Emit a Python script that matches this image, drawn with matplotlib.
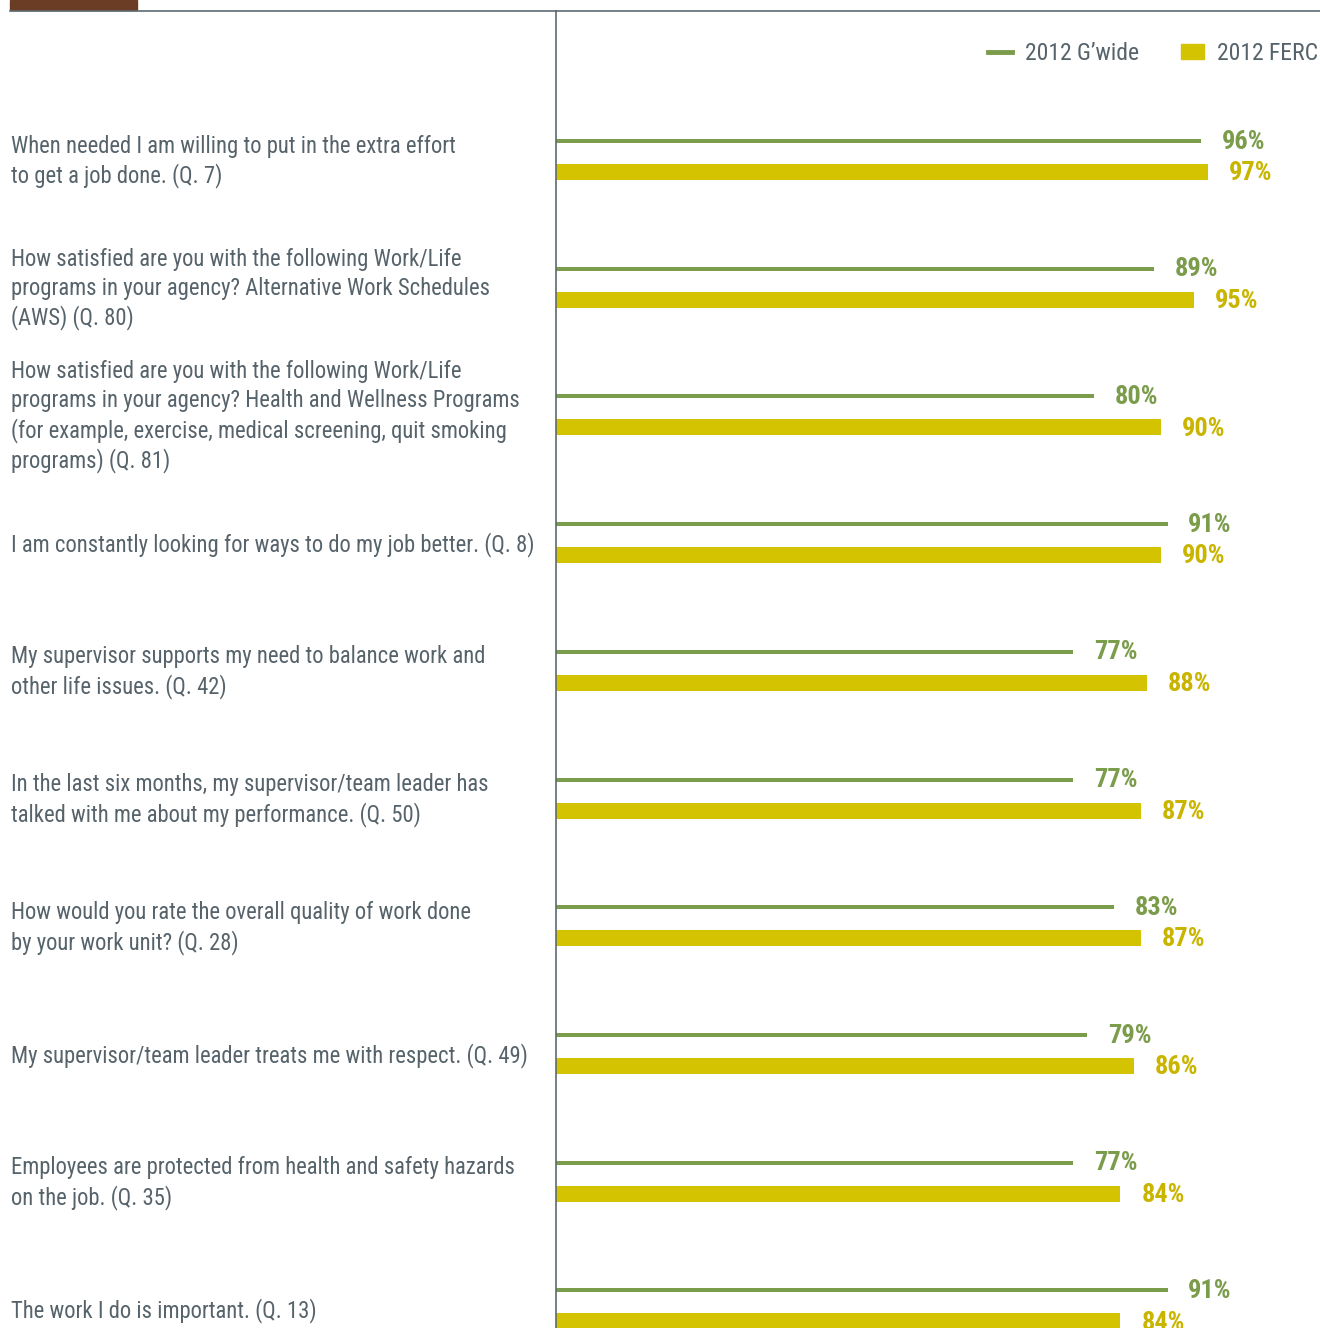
import matplotlib
matplotlib.use('Agg')
import matplotlib.pyplot as plt
from matplotlib.patches import Rectangle
from matplotlib.lines import Line2D

questions = [
    'When needed I am willing to put in the extra effort\nto get a job done. (Q. 7)',
    'How satisfied are you with the following Work/Life\nprograms in your agency? Alternative Work Schedules\n(AWS) (Q. 80)',
    'How satisfied are you with the following Work/Life\nprograms in your agency? Health and Wellness Programs\n(for example, exercise, medical screening, quit smoking\nprograms) (Q. 81)',
    'I am constantly looking for ways to do my job better. (Q. 8)',
    'My supervisor supports my need to balance work and\nother life issues. (Q. 42)',
    'In the last six months, my supervisor/team leader has\ntalked with me about my performance. (Q. 50)',
    'How would you rate the overall quality of work done\nby your work unit? (Q. 28)',
    'My supervisor/team leader treats me with respect. (Q. 49)',
    'Employees are protected from health and safety hazards\non the job. (Q. 35)',
    'The work I do is important. (Q. 13)',
]
gwide = [96, 89, 80, 91, 77, 77, 83, 79, 77, 91]
ferc = [97, 95, 90, 90, 88, 87, 87, 86, 84, 84]

green = '#7b9c4b'
yellow = '#d4c300'
yellow_txt = '#c9b500'
grey_txt = '#56636b'
line_col = '#5d6a72'
font = ['Roboto Condensed', 'Fira Sans Condensed', 'PT Sans Narrow',
        'Sofia Sans Condensed', 'DejaVu Sans']

W, H = 1320, 1328
fig = plt.figure(figsize=(W / 100, H / 100), dpi=100)

# header strip
fig.patches.append(Rectangle((10 / W, 1 - 10 / H), 127 / W, 10 / H,
                             transform=fig.transFigure, color='#6b3d24'))
fig.lines.append(Line2D([10 / W, 1], [1 - 10.5 / H, 1 - 10.5 / H],
                        transform=fig.transFigure, color=line_col, lw=1.2))

ax = fig.add_axes([556 / W, 0, 1 - 556 / W, (H - 11) / H])
row_px = 127.7
ax.set_xlim(0, (W - 556) / 6.72)
ax.set_ylim((H - 156.5) / row_px, (11 - 156.5) / row_px)
for s in ['top', 'right', 'bottom']:
    ax.spines[s].set_visible(False)
ax.spines['left'].set_color(line_col)
ax.spines['left'].set_linewidth(1.2)
ax.set_xticks([])
ax.set_yticks([])

rows = list(range(len(questions)))
off = 15.5 / row_px
yg = [r - off for r in rows]
yf = [r + off for r in rows]
ax.barh(yg, gwide, height=4 / row_px, color=green)
ax.barh(yf, ferc, height=16 / row_px, color=yellow)

for r, g, f in zip(rows, gwide, ferc):
    ax.text(g + 3.1, r - off + 0.005, f'{g}%', color=green, fontsize=19, fontweight='bold',
            va='center', ha='left', family=font)
    ax.text(f + 3.1, r + off + 0.01, f'{f}%', color=yellow_txt, fontsize=19,
            fontweight='bold', va='center', ha='left', family=font)
    fig.text(11 / W, 1 - (156.5 + 5 + r * row_px) / H, questions[r], color=grey_txt,
             fontsize=16.3, va='center', ha='left', linespacing=1.3, family=font)

# legend
fig.lines.append(Line2D([988 / W, 1012 / W], [1 - 52 / H, 1 - 52 / H],
                        transform=fig.transFigure, color=green, lw=3.5))
fig.text(1025 / W, 1 - 53 / H, '2012 G\u2019wide', color=grey_txt, fontsize=17,
         va='center', ha='left', family=font)
fig.patches.append(Rectangle((1181 / W, 1 - 59 / H), 23 / W, 15 / H,
                             transform=fig.transFigure, color=yellow))
fig.text(1217 / W, 1 - 53 / H, '2012 FERC', color=grey_txt, fontsize=17,
         va='center', ha='left', family=font)

fig.savefig('out.png', dpi=100)
